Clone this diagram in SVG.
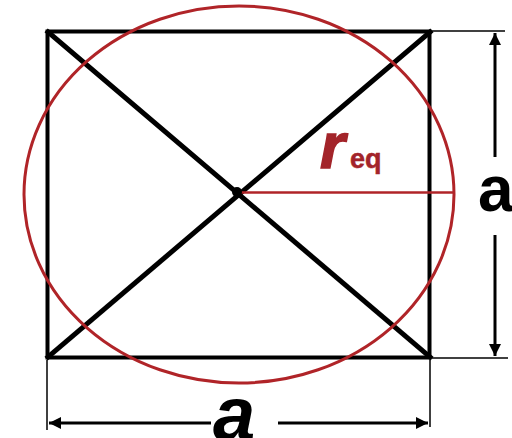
<svg xmlns="http://www.w3.org/2000/svg" width="512" height="438" viewBox="0 0 512 438">
<defs>
<style>
.blk{stroke:#000;fill:none;stroke-linecap:square}
.thin{stroke:#000;stroke-width:1.5;fill:none}
.red{stroke:#b02428;fill:none}
.lbl{font-family:"Liberation Sans",Arial,sans-serif;font-weight:bold}
</style>
<marker id="ah" viewBox="0 0 10 10" refX="10" refY="5" markerWidth="4" markerHeight="4" orient="auto-start-reverse" markerUnits="strokeWidth">
<path d="M0,0 L10,5 L0,10 z" fill="#000"/>
</marker>
</defs>
<rect width="512" height="438" fill="#fff"/>
<g id="square">
<rect x="47.5" y="31.5" width="382" height="326" class="blk" stroke-width="4"/>
</g>
<g id="diagonals">
<line x1="48" y1="32" x2="430" y2="357" class="blk" stroke-width="5"/>
<line x1="430" y1="32" x2="48" y2="357" class="blk" stroke-width="5"/>
</g>
<g id="circle">
<ellipse cx="239" cy="194.5" rx="215" ry="188.5" class="red" stroke-width="3"/>
<line x1="239" y1="192.5" x2="454" y2="192.5" class="red" stroke-width="2.5"/>
<circle cx="237" cy="192" r="5" fill="#000"/>
<text x="320" y="168" class="lbl" font-size="64" font-style="italic" fill="#a3242a" stroke="#a3242a" stroke-width="1.5">r<tspan font-size="27" font-style="normal" stroke-width="0.5" dx="5">eq</tspan></text>
</g>
<g id="connectors">
<line x1="432" y1="31" x2="505" y2="31" class="thin"/>
<line x1="432" y1="358" x2="508" y2="358" class="thin"/>
<line x1="47" y1="360" x2="47" y2="430" class="thin"/>
<line x1="430" y1="360" x2="430" y2="427" class="thin"/>
<line x1="495" y1="157" x2="495" y2="33" stroke="#000" stroke-width="3" marker-end="url(#ah)"/>
<line x1="495" y1="235" x2="495" y2="356" stroke="#000" stroke-width="3" marker-end="url(#ah)"/>
<line x1="211" y1="423" x2="49" y2="423" stroke="#000" stroke-width="3" marker-end="url(#ah)"/>
<line x1="278" y1="423" x2="428" y2="423" stroke="#000" stroke-width="3" marker-end="url(#ah)"/>
</g>
<g id="labels">
<text x="478" y="211" class="lbl" font-size="64" fill="#000">a</text>
<text x="213" y="440" class="lbl" font-size="76" font-style="italic" fill="#000">a</text>
</g>
</svg>
